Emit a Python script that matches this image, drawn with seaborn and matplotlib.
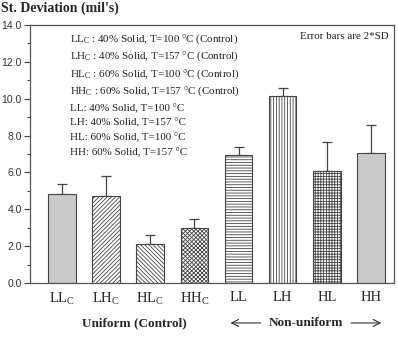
import matplotlib
matplotlib.use("Agg")
import matplotlib.pyplot as plt
import seaborn as sns
import numpy as np
import pandas as pd

categories = ["LLc", "LHc", "HLc", "HHc", "LL", "LH", "HL", "HH"]
tick_labels = [r"LL$_\mathrm{C}$", r"LH$_\mathrm{C}$", r"HL$_\mathrm{C}$", r"HH$_\mathrm{C}$",
               "LL", "LH", "HL", "HH"]
values = [4.83, 4.72, 2.10, 2.97, 6.95, 10.16, 6.08, 7.05]
errors = [0.54, 1.08, 0.50, 0.48, 0.43, 0.41, 1.59, 1.52]
hatches = ["", "////////", "\\\\\\\\\\\\\\\\", "xxxxxxxx", "------", "||||||", "++++++", ""]
faces = ["#cacaca", "white", "white", "white", "white", "white", "white", "#cacaca"]
legend_lines = [
    r"LL$_\mathrm{C}$ : 40% Solid, T=100 °C (Control)",
    r"LH$_\mathrm{C}$ : 40% Solid, T=157 °C (Control)",
    r"HL$_\mathrm{C}$ : 60% Solid, T=100 °C (Control)",
    r"HH$_\mathrm{C}$ : 60% Solid, T=157 °C (Control)",
    "LL: 40% Solid, T=100 °C",
    "LH: 40% Solid, T=157 °C",
    "HL: 60% Solid, T=100 °C",
    "HH: 60% Solid, T=157 °C",
]

sns.set_style("ticks")
plt.rcParams["font.family"] = ["Liberation Serif", "DejaVu Sans"]
plt.rcParams["mathtext.fontset"] = "custom"
plt.rcParams["mathtext.rm"] = "Liberation Serif"
plt.rcParams["mathtext.it"] = "Liberation Serif:italic"
plt.rcParams["mathtext.bf"] = "Liberation Serif:bold"
plt.rcParams["hatch.color"] = "#555555"
plt.rcParams["hatch.linewidth"] = 0.6

fig = plt.figure(figsize=(3.98, 3.48), dpi=100)
ax = fig.add_axes([0.0754, 0.187, 0.9146, 0.741])

df = pd.DataFrame({"cat": categories, "val": values})
sns.barplot(data=df, x="cat", y="val", ax=ax, width=0.62, color="white",
            edgecolor="#444444", linewidth=0.8, errorbar=None)
for p, h, fc in zip(ax.patches, hatches, faces):
    p.set_hatch(h)
    p.set_facecolor(fc)
    p.set_edgecolor("#444444")

x = np.arange(len(categories))
ax.errorbar(x, values, yerr=[np.zeros(len(errors)), errors], fmt="none",
            ecolor="#444444", elinewidth=0.9, capsize=3.5, capthick=0.9, zorder=0.5)

ax.set_xlim(-0.72, 7.52)
ax.set_ylim(0, 14)
ax.set_yticks(np.arange(0, 14.1, 2))
ax.set_yticklabels([f"{v:.1f}" for v in np.arange(0, 14.1, 2)],
                   fontfamily="Liberation Sans", fontsize=7.5, color="#333333")
ax.set_yticks(np.arange(1, 14, 2), minor=True)
ax.tick_params(axis="y", which="major", length=4, width=0.8, color="#444444", pad=2)
ax.tick_params(axis="y", which="minor", length=2.5, width=0.8, color="#444444")
ax.set_xticks(x)
ax.set_xticklabels(tick_labels, fontsize=10.5)
ax.tick_params(axis="x", length=0, pad=6)
ax.set_xlabel("")
ax.set_ylabel("")
for s in ax.spines.values():
    s.set_visible(True)
    s.set_color("#555555")
    s.set_linewidth(0.9)

# legend text block
y0 = 13.25
steps = [0.95, 0.95, 0.95, 0.92, 0.8, 0.8, 0.8]
yy = y0
for i, line in enumerate(legend_lines):
    ax.text(0.18, yy, line, fontsize=7.9, va="center", ha="left", color="#222222")
    if i < len(steps):
        yy -= steps[i]

ax.text(0.985, 0.955, "Error bars are 2*SD", transform=ax.transAxes, fontsize=7.9,
        ha="right", va="center", color="#222222")

fig.text(0.002, 0.975, "St. Deviation (mil's)", fontsize=10, fontweight="bold",
         ha="left", va="center")

fig.text(0.337, 0.072, "Uniform (Control)", fontsize=9.5, fontweight="bold",
         ha="center", va="center")
fig.text(0.768, 0.072, "Non-uniform", fontsize=9.5, fontweight="bold",
         ha="center", va="center")
fig.add_artist(matplotlib.patches.FancyArrowPatch((0.662, 0.072), (0.572, 0.072),
               transform=fig.transFigure, arrowstyle="->,head_length=5,head_width=2.5",
               color="#333333", lw=0.8))
fig.add_artist(matplotlib.patches.FancyArrowPatch((0.875, 0.072), (0.965, 0.072),
               transform=fig.transFigure, arrowstyle="->,head_length=5,head_width=2.5",
               color="#333333", lw=0.8))

fig.savefig("out.png", dpi=100)
